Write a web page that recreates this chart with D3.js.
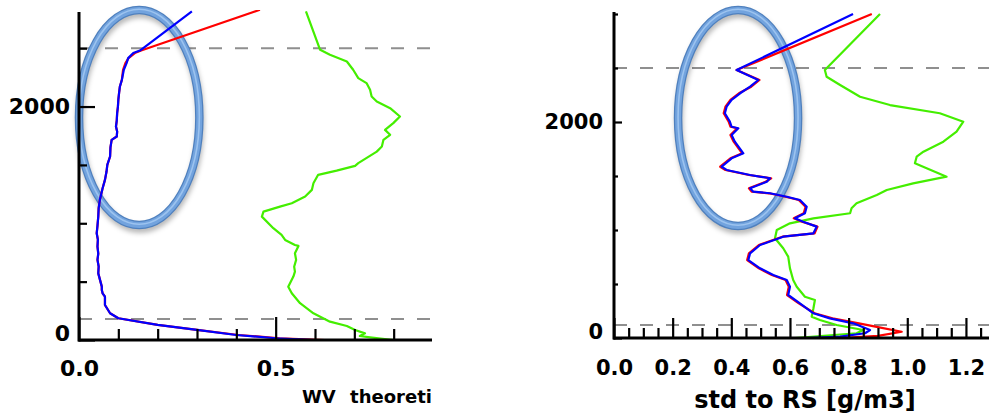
<!DOCTYPE html>
<html><head><meta charset="utf-8">
<script src="https://cdn.jsdelivr.net/npm/d3@7"></script>
<style>body{margin:0;background:#fff}svg{display:block}</style>
</head><body><svg id="c" width="989" height="420"></svg>
<script>
// ---------- DATA (altitude, value) ----------
const leftBlue = [[0,0.60],[15,0.50],[43,0.40],[86,0.30],[129,0.20],[186,0.10],[229,0.079],[300,0.066],[371,0.066],[400,0.060],[429,0.058],[457,0.058],[571,0.049],[630,0.050],[686,0.047],[740,0.049],[800,0.047],[860,0.048],[914,0.045],[980,0.047],[1057,0.049],[1130,0.050],[1200,0.053],[1300,0.060],[1372,0.066],[1443,0.070],[1500,0.072],[1572,0.079],[1650,0.080],[1715,0.083],[1743,0.096],[1786,0.097],[1829,0.094],[1880,0.096],[1944,0.097],[2000,0.099],[2058,0.100],[2120,0.102],[2172,0.104],[2229,0.109],[2315,0.114],[2372,0.121],[2415,0.125],[2458,0.138],[2480,0.155],[2815,0.287]];
const leftRed  = [[0,0.625],[15,0.51],[43,0.405],[86,0.30],[129,0.20],[186,0.10],[229,0.079],[300,0.066],[371,0.066],[400,0.060],[429,0.058],[457,0.058],[571,0.049],[630,0.050],[686,0.047],[740,0.049],[800,0.047],[860,0.048],[914,0.045],[980,0.047],[1057,0.049],[1130,0.050],[1200,0.053],[1300,0.060],[1372,0.066],[1443,0.070],[1500,0.072],[1572,0.079],[1650,0.080],[1715,0.083],[1743,0.096],[1786,0.097],[1829,0.094],[1880,0.096],[1944,0.097],[2000,0.099],[2058,0.100],[2120,0.102],[2172,0.104],[2229,0.109],[2315,0.112],[2372,0.118],[2415,0.126],[2458,0.142],[2480,0.158],[2829,0.46]];
const leftGreen = [[0,0.799],[23,0.740],[34,0.714],[57,0.727],[86,0.702],[120,0.681],[157,0.638],[229,0.596],[315,0.562],[400,0.541],[457,0.532],[543,0.545],[586,0.549],[628,0.547],[686,0.552],[743,0.549],[806,0.558],[814,0.549],[857,0.524],[900,0.515],[958,0.494],[1057,0.465],[1100,0.469],[1143,0.511],[1172,0.541],[1229,0.575],[1286,0.592],[1343,0.596],[1415,0.608],[1451,0.655],[1492,0.702],[1515,0.710],[1614,0.757],[1657,0.770],[1715,0.774],[1758,0.791],[1800,0.778],[1858,0.799],[1915,0.816],[1986,0.791],[2043,0.757],[2086,0.744],[2143,0.740],[2201,0.731],[2244,0.710],[2315,0.697],[2386,0.681],[2443,0.638],[2486,0.613],[2815,0.577]];

const rightBlue = [[0,0.657],[12,0.771],[44,0.856],[74,0.873],[136,0.816],[182,0.736],[229,0.680],[321,0.634],[398,0.594],[475,0.600],[537,0.589],[583,0.543],[645,0.498],[722,0.458],[784,0.464],[861,0.498],[938,0.577],[969,0.680],[1031,0.691],[1077,0.645],[1108,0.617],[1155,0.651],[1216,0.657],[1278,0.634],[1308,0.589],[1340,0.532],[1355,0.475],[1386,0.464],[1447,0.521],[1479,0.532],[1509,0.464],[1556,0.384],[1586,0.367],[1664,0.401],[1710,0.441],[1818,0.412],[1880,0.401],[1942,0.424],[1956,0.401],[2003,0.395],[2081,0.378],[2142,0.384],[2204,0.401],[2266,0.430],[2327,0.464],[2389,0.492],[2481,0.418],[3000,0.815]];
const rightRed = [[0,0.771],[20,0.90],[58,0.981],[100,0.90],[136,0.835],[182,0.745],[229,0.684],[321,0.630],[398,0.590],[475,0.596],[537,0.585],[583,0.538],[645,0.494],[722,0.454],[784,0.460],[861,0.494],[938,0.574],[969,0.684],[1031,0.694],[1077,0.641],[1108,0.613],[1155,0.647],[1216,0.653],[1278,0.630],[1308,0.585],[1340,0.528],[1355,0.470],[1386,0.460],[1447,0.517],[1479,0.536],[1509,0.460],[1556,0.380],[1586,0.362],[1664,0.397],[1710,0.437],[1818,0.408],[1880,0.397],[1942,0.420],[1956,0.397],[2003,0.391],[2081,0.374],[2142,0.380],[2204,0.397],[2266,0.426],[2327,0.468],[2389,0.496],[2481,0.418],[3000,0.879]];
const rightGreen = [[0,0.617],[44,0.827],[74,0.850],[120,0.759],[167,0.702],[197,0.674],[275,0.680],[352,0.685],[382,0.651],[475,0.623],[537,0.611],[645,0.600],[753,0.594],[831,0.577],[923,0.549],[1000,0.555],[1062,0.600],[1108,0.680],[1155,0.805],[1201,0.810],[1247,0.827],[1324,0.896],[1370,0.930],[1432,1.020],[1494,1.134],[1571,1.066],[1618,1.026],[1679,1.032],[1725,1.055],[1818,1.123],[1910,1.168],[2003,1.191],[2081,1.111],[2157,0.941],[2234,0.839],[2343,0.771],[2419,0.725],[2481,0.719],[3000,0.907]];

const yMajor = [0, 2000];
const yMinorLeft = [500, 1000, 1500, 2500];
const yMinorRight = [500, 1000, 1500, 2500, 3000];
const xMajorLeft = [0, 0.5];
const xMinorLeft = [0.1, 0.2, 0.3, 0.4, 0.6, 0.7, 0.8];
const xMajorRight = [0, 0.2, 0.4, 0.6, 0.8, 1.0, 1.2];
const xMinorRight = [0.05,0.1,0.15,0.25,0.3,0.35,0.45,0.5,0.55,0.65,0.7,0.75,0.85,0.9,0.95,1.05,1.1,1.15,1.25];
const dashLeft = [180, 2500];
const dashRight = [120, 2500];
const titleLeft = "WV theoretical error";
const titleRight = "std to RS [g/m3]";
// highlight ellipses (data coords: centre value, centre altitude, radius value, radius altitude)
const ellipseLeft = [0.153, 1906, 0.153, 921];
const ellipseRight = [0.423, 2037, 0.2046, 1000];

// ---------- DRAW ----------
const svg = d3.select("#c");
const FONT = "'DejaVu Sans', Verdana, sans-serif";
const defs = svg.append("defs");
defs.append("clipPath").attr("id","clipL").append("rect").attr("x",79).attr("y",10).attr("width",353).attr("height",332);
defs.append("clipPath").attr("id","clipR").append("rect").attr("x",614).attr("y",10).attr("width",375).attr("height",331);
defs.append("clipPath").attr("id","clipT").append("rect").attr("x",0).attr("y",380).attr("width",431).attr("height",40);
const blur = defs.append("filter").attr("id","sh").attr("x","-20%").attr("y","-20%").attr("width","140%").attr("height","140%");
blur.append("feGaussianBlur").attr("stdDeviation",2.5);

function panel(o) {
  const {x, y, blue, red, green, dashes, xMaj, xMin, yMin, xMajSize, xMinSize, yMajSize, yMinSize, clip, fs, xPad, yPad, xEnd, yTop, ell} = o;
  const g = svg.append("g");
  // dashed reference lines
  g.selectAll("line.dash").data(dashes).join("line")
    .attr("x1", x.range()[0]).attr("x2", xEnd)
    .attr("y1", d => y(d)).attr("y2", d => y(d))
    .attr("stroke", "#8f8f8f").attr("stroke-width", 2).attr("stroke-dasharray", "13,13");
  // ellipse highlight (drawn under the profiles)
  const [cx, cy, rx, ry] = ell;
  const ex = x(cx), ey = y(cy), erx = x(cx + rx) - x(cx), ery = y(cy) - y(cy + ry);
  g.append("ellipse").attr("cx", ex + 1).attr("cy", ey + 4).attr("rx", erx).attr("ry", ery)
    .attr("fill", "none").attr("stroke", "rgba(0,0,0,0.28)").attr("stroke-width", 8).attr("filter", "url(#sh)");
  g.append("ellipse").attr("cx", ex).attr("cy", ey).attr("rx", erx).attr("ry", ery)
    .attr("fill", "none").attr("stroke", "#4f80be").attr("stroke-width", 8.5);
  g.append("ellipse").attr("cx", ex).attr("cy", ey).attr("rx", erx).attr("ry", ery)
    .attr("fill", "none").attr("stroke", "#72a3de").attr("stroke-width", 6);
  g.append("ellipse").attr("cx", ex).attr("cy", ey - 0.8).attr("rx", erx).attr("ry", ery)
    .attr("fill", "none").attr("stroke", "#9cc3ef").attr("stroke-width", 1.6);

  const line = d3.line().x(d => x(d[1])).y(d => y(d[0]));
  const lg = g.append("g").attr("clip-path", `url(#${clip})`);
  [[green, "#44ee00"], [red, "#ff0000"], [blue, "#0000ff"]].forEach(([data, col]) => {
    lg.append("path").datum(data).attr("d", line).attr("fill", "none")
      .attr("stroke", col).attr("stroke-width", 2.2).attr("stroke-linejoin", "round");
  });
  const y0 = y(0), x0 = x(0);
  // x axis
  const ax1 = g.append("g").attr("transform", `translate(0,${y0})`)
    .call(d3.axisBottom(x).tickValues(xMaj).tickSize(-xMajSize).tickPadding(xPad).tickFormat(d3.format(".1f")));
  const ax2 = g.append("g").attr("transform", `translate(0,${y0})`)
    .call(d3.axisBottom(x).tickValues(xMin).tickSize(-xMinSize).tickFormat(""));
  // y axis
  const ay1 = g.append("g").attr("transform", `translate(${x0},0)`)
    .call(d3.axisLeft(y).tickValues(yMajor).tickSize(-yMajSize).tickPadding(yPad).tickFormat(d3.format("d")));
  const ay2 = g.append("g").attr("transform", `translate(${x0},0)`)
    .call(d3.axisLeft(y).tickValues(yMin).tickSize(-yMinSize).tickFormat(""));
  [ax1, ax2, ay1, ay2].forEach(a => {
    a.select(".domain").remove();
    a.selectAll(".tick line").attr("stroke", "#000").attr("stroke-width", 2.2);
    a.selectAll("text").attr("font-family", FONT).attr("font-weight", "bold").attr("font-size", fs).attr("fill", "#000");
  });
  ay1.selectAll(".tick text").filter(d => d === 0).attr("dy", "0.0em");
  // axis lines
  g.append("line").attr("x1", x0 - 1).attr("x2", xEnd).attr("y1", y0).attr("y2", y0).attr("stroke", "#000").attr("stroke-width", 3);
  g.append("line").attr("x1", x0).attr("x2", x0).attr("y1", yTop).attr("y2", y0 + 1.5).attr("stroke", "#000").attr("stroke-width", 3);
  return g;
}

const xL = d3.scaleLinear().domain([0, 0.9]).range([79, 433]);
const yL = d3.scaleLinear().domain([0, 2810]).range([340, 12]);
const xR = d3.scaleLinear().domain([0, 1.28]).range([614, 989.4]);
const yR = d3.scaleLinear().domain([0, 3000]).range([338, 14]);

panel({x: xL, y: yL, blue: leftBlue, red: leftRed, green: leftGreen, dashes: dashLeft,
  xMaj: xMajorLeft, xMin: xMinorLeft, yMin: yMinorLeft, xMajSize: 23, xMinSize: 11, yMajSize: 16, yMinSize: 8,
  clip: "clipL", fs: 22, xPad: 20, yPad: 9, xEnd: 432, yTop: 12, ell: ellipseLeft});
panel({x: xR, y: yR, blue: rightBlue, red: rightRed, green: rightGreen, dashes: dashRight,
  xMaj: xMajorRight, xMin: xMinorRight, yMin: yMinorRight, xMajSize: 20, xMinSize: 10, yMajSize: 8, yMinSize: 4,
  clip: "clipR", fs: 21, xPad: 22, yPad: 11, xEnd: 989, yTop: 12, ell: ellipseRight});

// axis titles
svg.append("text").attr("clip-path", "url(#clipT)").attr("x", 302).attr("y", 403)
  .attr("font-family", FONT).attr("font-weight", "bold").attr("font-size", 18).attr("word-spacing", 8)
  .text(titleLeft);
svg.append("text").attr("x", 805).attr("y", 408).attr("text-anchor", "middle")
  .attr("font-family", FONT).attr("font-weight", "bold").attr("font-size", 24)
  .text(titleRight);
</script></body></html>
